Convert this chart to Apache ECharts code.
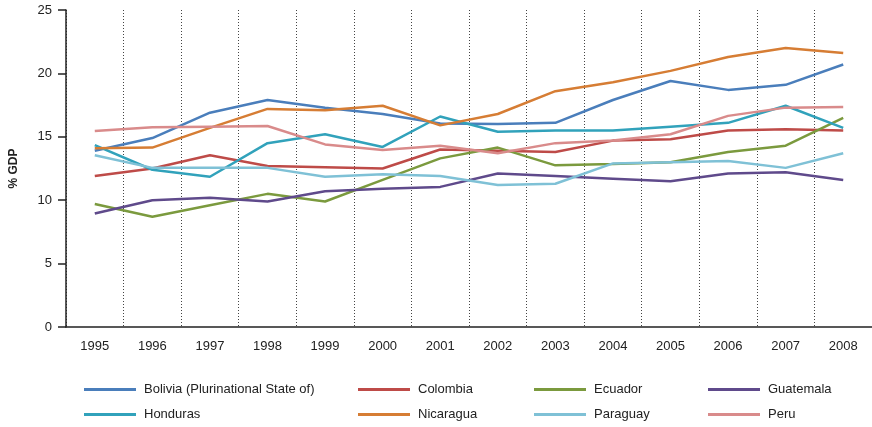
<!DOCTYPE html>
<html>
<head>
<meta charset="utf-8">
<script src="https://cdn.jsdelivr.net/npm/echarts@6/dist/echarts.min.js"></script>
<style>html,body{margin:0;padding:0;background:#fff}#c{width:872px;height:427px}</style>
</head>
<body>
<div id="c"></div>
<script>
const years = ['1995','1996','1997','1998','1999','2000','2001','2002','2003','2004','2005','2006','2007','2008'];
const yTicks = [0,5,10,15,20,25];
const bolivia   = [13.9,14.9,16.9,17.9,17.3,16.8,16.05,16.0,16.1,17.9,19.4,18.7,19.1,20.7];
const colombia  = [11.9,12.5,13.55,12.7,12.6,12.5,14.0,13.9,13.8,14.7,14.8,15.5,15.6,15.5];
const ecuador   = [9.7,8.7,9.6,10.5,9.9,11.6,13.3,14.15,12.75,12.85,13.0,13.8,14.3,16.5];
const guatemala = [8.95,10.0,10.2,9.9,10.7,10.9,11.05,12.1,11.9,11.7,11.5,12.1,12.2,11.6];
const honduras  = [14.35,12.4,11.85,14.5,15.2,14.2,16.6,15.4,15.5,15.5,15.8,16.1,17.45,15.7];
const nicaragua = [14.1,14.15,15.7,17.2,17.1,17.45,15.9,16.8,18.6,19.3,20.2,21.3,22.0,21.6];
const paraguay  = [13.55,12.55,12.55,12.55,11.85,12.05,11.9,11.2,11.3,12.9,13.0,13.1,12.55,13.7];
const peru      = [15.45,15.75,15.8,15.85,14.4,13.95,14.3,13.7,14.5,14.7,15.2,16.65,17.3,17.35];

const names = ['Bolivia (Plurinational State of)','Colombia','Ecuador','Guatemala','Honduras','Nicaragua','Paraguay','Peru'];
const values = [bolivia,colombia,ecuador,guatemala,honduras,nicaragua,paraguay,peru];
const colors = ['#4a7ebb','#be4b48','#7b9a3e','#5f4a8b','#31a2bb','#d67d34','#7fc1d6','#d98b8b'];
const legendPos = [[84,383],[358,383],[534,383],[708,383],[84,408],[358,408],[534,408],[708,408]];

const font = 'Liberation Sans, Arial, sans-serif';
const chart = echarts.init(document.getElementById('c'), null, {renderer:'canvas'});
chart.setOption({
  animation:false,
  backgroundColor:'#fff',
  textStyle:{fontFamily:font},
  grid:{left:66, width:811, top:10, bottom:100, containLabel:false},
  xAxis:{
    type:'category', data:years, boundaryGap:true,
    axisLine:{show:true, lineStyle:{color:'#222', width:1.5}},
    axisTick:{show:false},
    axisLabel:{color:'#222', fontSize:13, margin:13, fontFamily:font},
    splitLine:{show:true, lineStyle:{color:'#444', type:[1,2], width:1}}
  },
  yAxis:{
    type:'value', min:0, max:25, interval:5,
    name:'% GDP', nameLocation:'middle', nameGap:46, nameRotate:90,
    nameTextStyle:{color:'#222', fontSize:12, fontWeight:'bold', fontFamily:font},
    axisLine:{show:true, lineStyle:{color:'#222', width:1.5}},
    axisTick:{show:true, length:8, lineStyle:{color:'#222', width:1.5}},
    axisLabel:{color:'#222', fontSize:13, margin:14, fontFamily:font,
      formatter:v=> yTicks.includes(v) ? String(v) : ''},
    splitLine:{show:false}
  },
  legend: names.map((n,i)=>({
    show:true, data:[n], left:legendPos[i][0], top:legendPos[i][1],
    icon:'rect', itemWidth:52, itemHeight:3, padding:0,
    textStyle:{color:'#222', fontSize:13, fontFamily:font, padding:[0,0,0,3]}
  })),
  series: names.map((n,i)=>({
    name:n, type:'line', data:values[i], symbol:'none',
    lineStyle:{color:colors[i], width:2.5}, itemStyle:{color:colors[i]}
  }))
});
</script>
</body>
</html>
